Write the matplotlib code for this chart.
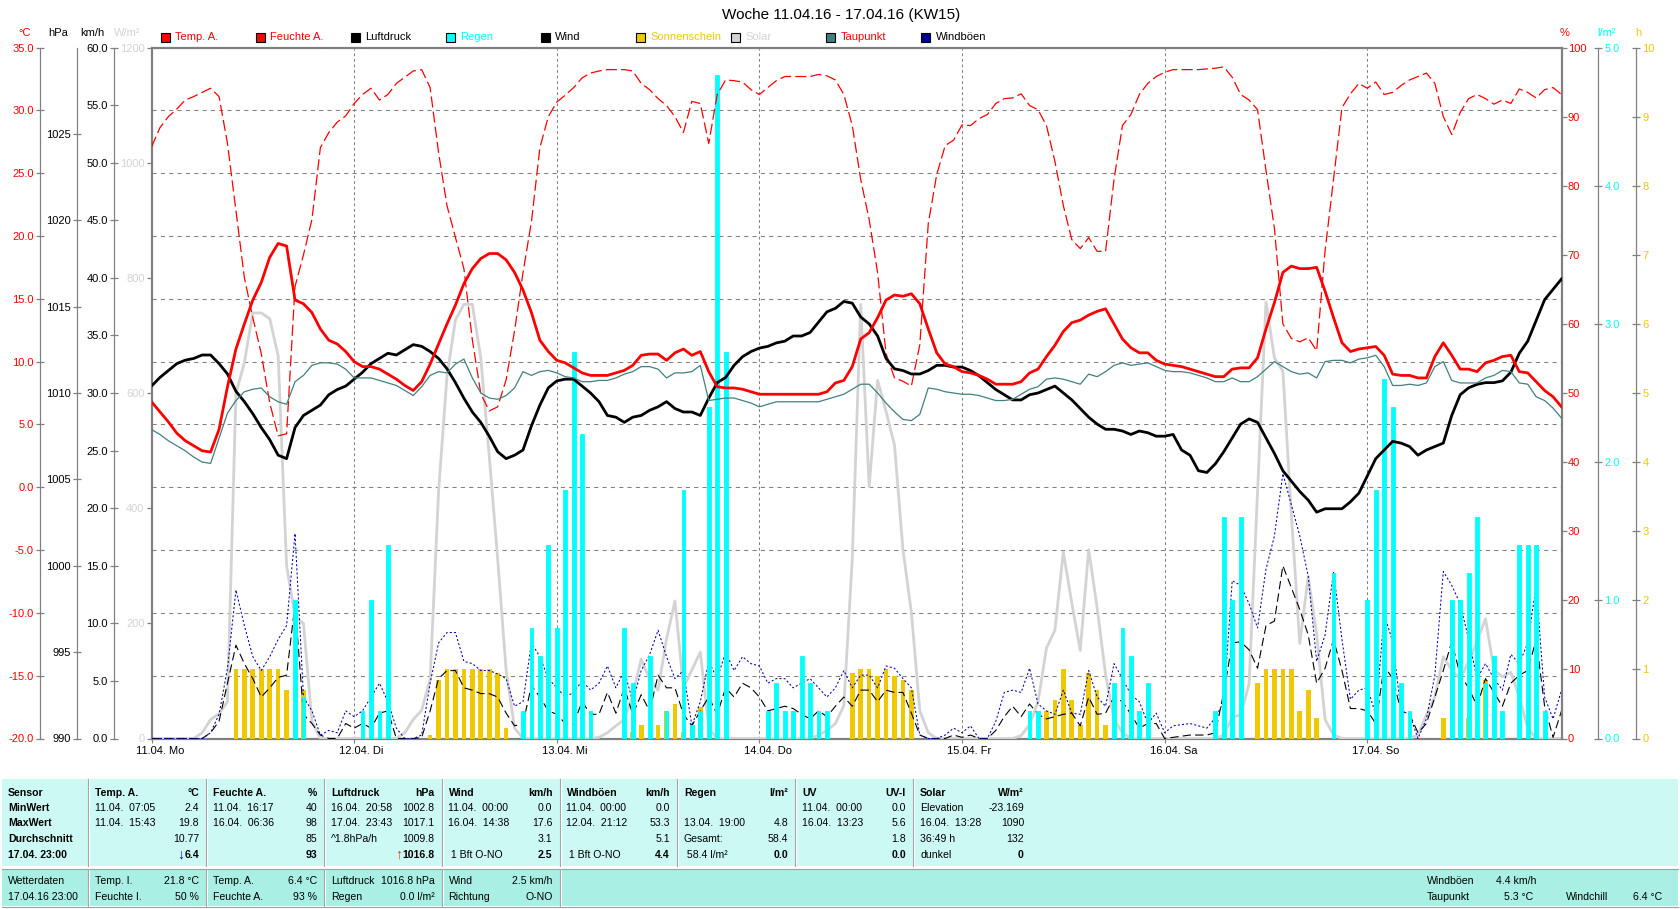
import numpy as np
import matplotlib.pyplot as plt
from matplotlib.patches import Rectangle
from matplotlib.lines import Line2D
from matplotlib.ticker import FormatStrFormatter
import matplotlib.transforms as mtransforms

plt.rcParams['font.family'] = ['Liberation Sans', 'DejaVu Sans']
plt.rcParams['font.size'] = 8
plt.rcParams['lines.scale_dashes'] = False

# hourly values 11.04. 00:00 .. 17.04. 23:00
hours = np.arange(168)
day_labels = ["11.04. Mo", "12.04. Di", "13.04. Mi", "14.04. Do", "15.04. Fr", "16.04. Sa", "17.04. So"]

temp = [6.8, 6.0, 5.2, 4.3, 3.7, 3.3, 2.9, 2.8, 4.6, 8.0, 11.0, 13.0, 14.9, 16.3, 18.3, 19.4, 19.2, 14.9, 14.6, 13.9, 12.6, 11.7, 11.4, 10.8,
        10.0, 9.6, 9.6, 9.4, 9.0, 8.6, 8.1, 7.7, 8.4, 9.8, 11.4, 13.0, 14.5, 16.2, 17.4, 18.2, 18.6, 18.6, 18.1, 17.1, 15.7, 13.9, 11.7, 10.8,
        10.1, 9.9, 9.5, 9.1, 8.9, 8.9, 8.9, 9.1, 9.3, 9.7, 10.5, 10.6, 10.6, 10.1, 10.7, 11.0, 10.5, 10.8, 9.2, 8.0, 7.9, 7.9, 7.8, 7.6,
        7.4, 7.4, 7.4, 7.4, 7.4, 7.4, 7.4, 7.4, 7.6, 8.3, 8.5, 9.6, 11.8, 12.3, 13.5, 14.9, 15.3, 15.2, 15.4, 14.6, 12.6, 10.7, 9.8, 9.6,
        9.2, 9.1, 8.9, 8.6, 8.2, 8.2, 8.2, 8.4, 9.1, 9.4, 10.4, 11.3, 12.4, 13.1, 13.3, 13.7, 14.0, 14.2, 13.0, 11.8, 11.1, 10.7, 10.7, 10.1,
        9.8, 9.7, 9.6, 9.4, 9.2, 9.0, 8.8, 8.8, 9.4, 9.5, 9.5, 10.3, 12.6, 14.7, 17.1, 17.6, 17.4, 17.4, 17.5, 15.6, 13.5, 11.5, 10.8, 11.0,
        11.1, 11.2, 10.5, 9.0, 8.9, 8.9, 8.7, 8.7, 10.4, 11.5, 10.5, 9.4, 9.4, 9.2, 9.9, 10.1, 10.4, 10.5, 9.2, 9.1, 8.4, 7.7, 7.2, 6.4]

humidity = [85.6, 88.4, 90.0, 91.1, 92.4, 92.9, 93.5, 94.1, 92.9, 86.1, 76.4, 66.7, 60.9, 55.7, 48.6, 43.8, 44.1, 65.4, 70.0, 75.1, 85.5, 87.7, 89.2, 90.1,
            91.9, 93.2, 94.1, 92.4, 93.2, 94.8, 95.7, 96.6, 96.8, 94.2, 84.8, 77.1, 72.5, 68.0, 57.7, 49.9, 47.4, 48.0, 51.9, 59.0, 67.4, 74.8, 85.5, 90.0,
            92.1, 93.1, 94.2, 95.6, 96.3, 96.6, 96.8, 96.8, 96.8, 96.6, 94.8, 93.9, 92.6, 91.6, 90.0, 87.7, 92.2, 91.9, 86.1, 93.2, 95.3, 95.2, 95.0, 93.9,
            93.2, 94.2, 95.2, 95.8, 95.8, 95.8, 95.8, 96.1, 95.9, 95.3, 93.2, 88.7, 80.9, 75.1, 67.4, 55.7, 52.2, 51.7, 51.0, 57.0, 74.5, 81.6, 85.8, 86.6,
            88.8, 88.7, 89.7, 90.3, 91.9, 92.6, 92.7, 93.3, 91.6, 91.0, 88.7, 83.5, 77.1, 72.2, 70.9, 72.5, 70.5, 70.5, 80.9, 88.7, 90.3, 93.2, 94.8, 95.8,
            96.4, 96.8, 96.8, 96.8, 96.8, 96.9, 97.0, 97.2, 95.7, 93.2, 92.4, 91.0, 82.2, 73.8, 60.0, 57.9, 57.4, 58.0, 56.1, 70.6, 80.9, 91.3, 93.3, 94.8,
            94.1, 95.0, 93.2, 93.5, 94.5, 95.3, 95.8, 96.3, 94.8, 90.0, 87.4, 90.6, 92.6, 93.2, 92.6, 91.8, 92.4, 91.9, 94.0, 93.5, 92.7, 93.9, 94.2, 93.2]

pressure = [1010.4, 1010.9, 1011.3, 1011.7, 1011.9, 1012.0, 1012.2, 1012.2, 1011.7, 1011.1, 1010.1, 1009.5, 1008.8, 1008.0, 1007.3, 1006.4, 1006.2, 1008.0, 1008.7, 1009.0, 1009.3, 1009.9, 1010.2, 1010.4,
            1010.8, 1011.2, 1011.7, 1012.0, 1012.3, 1012.2, 1012.5, 1012.8, 1012.7, 1012.4, 1012.0, 1011.4, 1010.6, 1009.7, 1008.9, 1008.3, 1007.5, 1006.6, 1006.2, 1006.4, 1006.7, 1008.1, 1009.3, 1010.3,
            1010.7, 1010.8, 1010.8, 1010.4, 1010.0, 1009.5, 1008.7, 1008.6, 1008.3, 1008.6, 1008.7, 1009.0, 1009.2, 1009.5, 1009.1, 1008.9, 1008.9, 1008.7, 1009.7, 1010.6, 1010.9, 1011.6, 1012.1, 1012.4,
            1012.6, 1012.7, 1012.9, 1013.0, 1013.3, 1013.3, 1013.5, 1014.1, 1014.7, 1014.9, 1015.3, 1015.2, 1014.4, 1014.0, 1013.3, 1012.0, 1011.4, 1011.3, 1011.1, 1011.1, 1011.3, 1011.6, 1011.6, 1011.5,
            1011.5, 1011.3, 1011.0, 1010.6, 1010.2, 1009.9, 1009.6, 1009.6, 1009.9, 1010.0, 1010.2, 1010.4, 1010.0, 1009.6, 1009.1, 1008.6, 1008.2, 1007.9, 1007.9, 1007.8, 1007.6, 1007.8, 1007.7, 1007.5,
            1007.5, 1007.6, 1006.7, 1006.4, 1005.5, 1005.4, 1005.9, 1006.6, 1007.4, 1008.2, 1008.5, 1008.3, 1007.4, 1006.5, 1005.5, 1004.9, 1004.3, 1003.8, 1003.1, 1003.3, 1003.3, 1003.3, 1003.7, 1004.2,
            1005.2, 1006.2, 1006.7, 1007.2, 1007.1, 1006.9, 1006.4, 1006.7, 1006.9, 1007.1, 1008.7, 1009.9, 1010.3, 1010.5, 1010.6, 1010.6, 1010.7, 1011.2, 1012.3, 1013.0, 1014.2, 1015.4, 1016.0, 1016.6]

dewpoint = [4.6, 4.2, 3.7, 3.3, 2.9, 2.4, 2.0, 1.9, 3.9, 5.9, 6.9, 7.6, 7.8, 7.9, 7.2, 6.8, 6.6, 8.4, 8.9, 9.7, 9.9, 9.9, 9.8, 9.4,
            8.7, 8.7, 8.7, 8.5, 8.3, 8.1, 7.7, 7.3, 8.0, 8.9, 9.2, 9.1, 9.8, 10.2, 8.7, 7.5, 7.1, 7.0, 7.3, 7.9, 9.2, 8.9, 9.2, 9.3,
            9.1, 8.8, 8.7, 8.4, 8.4, 8.5, 8.5, 8.7, 9.0, 9.2, 9.6, 9.6, 9.4, 8.7, 9.1, 9.1, 9.2, 9.7, 6.9, 7.0, 7.1, 7.1, 6.9, 6.7,
            6.4, 6.6, 6.8, 6.8, 6.8, 6.8, 6.8, 6.8, 7.0, 7.2, 7.4, 7.8, 8.2, 8.2, 7.5, 6.7, 6.0, 5.4, 5.3, 5.8, 7.9, 7.8, 7.6, 7.5,
            7.4, 7.4, 7.3, 7.1, 6.9, 6.9, 7.0, 7.4, 7.8, 8.0, 8.6, 8.7, 8.6, 8.4, 8.2, 9.0, 8.8, 9.2, 9.7, 9.9, 9.7, 9.8, 9.9, 9.6,
            9.3, 9.2, 9.2, 9.1, 8.9, 8.7, 8.4, 8.4, 8.7, 8.4, 8.4, 8.8, 9.4, 10.0, 9.6, 9.2, 9.0, 9.1, 8.7, 10.0, 10.1, 10.1, 9.9, 10.2,
            10.3, 10.5, 9.6, 8.1, 8.1, 8.2, 8.1, 8.3, 9.6, 10.0, 8.5, 8.3, 8.3, 8.3, 8.7, 8.9, 9.3, 9.2, 8.3, 8.2, 7.2, 6.9, 6.3, 5.5]

solar = [0, 0, 0, 0, 0, 0, 10, 33, 43, 64, 599, 653, 739, 739, 729, 665, 300, 212, 200, 30, 0, 0, 0, 0,
         0, 0, 0, 0, 0, 0, 10, 33, 49, 103, 429, 630, 727, 754, 754, 661, 491, 312, 119, 18, 0, 0, 0, 0,
         0, 0, 0, 0, 0, 2, 10, 22, 33, 76, 138, 103, 84, 173, 239, 88, 119, 150, 18, 0, 0, 0, 0, 0,
         0, 0, 0, 0, 0, 0, 0, 6, 14, 26, 57, 312, 754, 437, 622, 568, 510, 328, 219, 48, 10, 0, 0, 0,
         0, 0, 0, 0, 0, 0, 0, 5, 24, 64, 157, 188, 324, 235, 153, 328, 227, 111, 33, 10, 0, 0, 0, 0,
         0, 0, 0, 0, 0, 0, 0, 6, 37, 41, 95, 429, 758, 661, 638, 390, 165, 281, 181, 33, 6, 0, 0, 0,
         0, 0, 0, 0, 0, 0, 6, 41, 72, 142, 119, 103, 134, 169, 208, 119, 107, 115, 72, 18, 0, 0, 0, 0]

wind = [0, 0, 0, 0, 0, 0, 0, 0.5, 1.5, 4.8, 8.1, 6.5, 5.2, 3.6, 4.4, 5.3, 5.5, 11.7, 2.1, 1.3, 0.3, 0, 0, 1.3,
        0.9, 1.3, 0.9, 2.2, 2.4, 0, 0, 0, 0.1, 2.4, 5.2, 5.9, 5.9, 4.4, 4.2, 3.9, 3.9, 3.6, 2.2, 1.1, 1.3, 4.6, 3.6, 2.4,
        2.1, 1.3, 1.3, 3.2, 2.1, 2.1, 4.0, 2.2, 4.4, 2.1, 3.8, 2.4, 5.5, 4.4, 4.4, 2.1, 1.1, 2.4, 3.6, 2.1, 4.4, 3.6, 4.8, 4.4,
        3.6, 2.4, 2.6, 2.8, 2.6, 2.1, 1.7, 2.4, 1.9, 2.8, 3.6, 2.8, 4.2, 4.2, 3.2, 4.2, 4.0, 4.0, 2.2, 0.3, 0, 0, 0, 0.3,
        0.1, 0.3, 0, 0, 0.7, 1.9, 2.8, 1.9, 3.0, 2.1, 1.7, 1.9, 2.1, 2.2, 1.1, 3.6, 2.1, 2.2, 3.6, 3.2, 2.1, 0.9, 1.3, 1.3,
        0, 0.1, 0.2, 0.3, 0.3, 0.3, 0.5, 4.0, 8.3, 8.4, 7.7, 6.1, 9.8, 10.2, 15.0, 13.1, 11.2, 9.0, 4.8, 6.1, 8.6, 5.9, 2.6, 2.6,
        2.4, 1.3, 6.3, 5.2, 2.4, 2.1, 0.5, 1.3, 3.6, 5.9, 8.4, 5.5, 4.4, 2.8, 5.2, 4.0, 2.8, 4.8, 5.5, 5.9, 8.6, 2.8, 0.1, 2.4]

gusts = [0, 0, 0, 0, 0, 0, 0, 0.5, 2.1, 6.1, 12.9, 9.8, 7.1, 5.9, 7.1, 8.6, 9.8, 17.8, 3.6, 2.4, 0.3, 0.7, 0.5, 2.4,
         1.9, 2.4, 3.6, 4.8, 3.2, 0.9, 0, 0, 0.3, 4.8, 8.3, 9.2, 9.2, 6.7, 6.5, 5.9, 5.9, 5.6, 5.2, 2.8, 3.2, 8.3, 7.1, 5.2,
         4.4, 3.6, 4.0, 5.0, 4.2, 4.8, 6.3, 4.4, 5.9, 3.2, 5.9, 7.3, 9.4, 7.1, 5.2, 5.9, 1.1, 3.2, 6.7, 5.2, 7.5, 5.9, 7.1, 6.5,
         6.3, 4.8, 5.2, 5.2, 4.4, 4.8, 5.2, 4.4, 3.6, 4.4, 5.9, 4.4, 5.5, 5.5, 4.4, 6.3, 6.1, 5.2, 4.4, 0.3, 0, 0, 0.3, 0.9,
         0.5, 1.1, 0, 0, 1.5, 4.0, 4.2, 4.0, 6.1, 3.0, 2.4, 2.1, 4.2, 2.2, 2.1, 5.9, 3.6, 2.8, 6.5, 5.2, 3.8, 3.2, 1.3, 2.2,
         0.5, 1.1, 1.2, 1.3, 1.1, 0.9, 1.8, 3.2, 13.7, 13.3, 11.7, 9.6, 14.7, 17.6, 23.0, 20.3, 17.6, 14.1, 6.7, 9.0, 14.5, 8.6, 3.4, 4.2,
         4.4, 2.1, 10.8, 8.4, 2.4, 2.1, 0, 1.7, 5.5, 14.5, 13.3, 11.7, 8.6, 5.2, 6.5, 5.2, 4.2, 7.3, 6.5, 8.3, 13.3, 3.6, 1.7, 4.2]

rain = [0, 0, 0, 0, 0, 0, 0, 0, 0, 0, 0, 0, 0, 0, 0, 0, 0, 1.0, 0.3, 0, 0, 0, 0, 0,
        0, 0.2, 1.0, 0.2, 1.4, 0, 0, 0, 0, 0, 0, 0, 0, 0, 0, 0, 0, 0, 0, 0, 0.2, 0.8, 0.6, 1.4,
        0.8, 1.8, 2.8, 2.2, 0.2, 0, 0, 0, 0.8, 0.4, 0, 0.6, 0, 0.2, 0, 1.8, 0.1, 0.2, 2.4, 4.8, 2.8, 0, 0, 0,
        0, 0.2, 0.4, 0.2, 0.2, 0.6, 0.4, 0.2, 0.2, 0, 0, 0, 0, 0, 0, 0, 0, 0, 0, 0, 0, 0, 0, 0,
        0, 0, 0, 0, 0, 0, 0, 0, 0.2, 0.2, 0, 0, 0, 0, 0, 0, 0, 0, 0.4, 0.8, 0.6, 0.2, 0.4, 0,
        0, 0, 0, 0, 0, 0, 0.2, 1.6, 1.0, 1.6, 0, 0, 0, 0, 0, 0, 0, 0, 0, 0, 1.2, 0, 0, 0,
        1.0, 1.8, 2.6, 2.4, 0.4, 0.2, 0, 0, 0, 0, 1.0, 1.0, 1.2, 1.6, 0.4, 0.6, 0.2, 0, 1.4, 1.4, 1.4, 0.2, 0, 0]

sunshine = [0, 0, 0, 0, 0, 0, 0, 0, 0, 0, 1.0, 1.0, 1.0, 1.0, 1.0, 1.0, 0.7, 0.25, 0.7, 0, 0, 0, 0, 0,
            0, 0, 0, 0, 0, 0, 0, 0, 0, 0.05, 0.85, 1.0, 1.0, 1.0, 1.0, 1.0, 1.0, 0.95, 0.15, 0, 0, 0, 0, 0,
            0, 0, 0, 0, 0, 0, 0, 0, 0, 0.1, 0.2, 0, 0.2, 0.4, 0.5, 0.1, 0.2, 0.45, 0, 0, 0, 0, 0, 0,
            0, 0, 0, 0, 0, 0, 0, 0, 0, 0, 0, 0.95, 1.0, 1.0, 0.9, 1.0, 0.9, 0.85, 0.7, 0, 0, 0, 0, 0,
            0, 0, 0, 0, 0, 0, 0, 0, 0, 0, 0.4, 0.55, 1.0, 0.55, 0.2, 0.95, 0.7, 0.2, 0, 0, 0, 0, 0, 0,
            0, 0, 0, 0, 0, 0, 0, 0, 0, 0, 0, 0.8, 1.0, 1.0, 1.0, 1.0, 0.4, 0.7, 0.3, 0, 0, 0, 0, 0,
            0, 0, 0, 0, 0, 0, 0, 0, 0, 0.3, 0, 0, 0.3, 0.2, 0.85, 0, 0, 0, 0, 0, 0, 0, 0, 0]

RED = '#ff0000'
CYAN = '#00ffff'
GOLD = '#f0c800'
LGRAY = '#d3d3d3'
TEAL = '#408080'
NAVY = '#0000b0'
GRAY = '#808080'

W, H = 1680, 909
fig = plt.figure(figsize=(W / 100, H / 100), dpi=100)


def X(px):
    return px / W


def Y(py):
    return 1 - py / H


L, R, T, B = 151.5, 1561.5, 47.5, 738.5
ax = fig.add_axes([X(L), Y(B), (R - L) / W, (B - T) / H])
ax.set_xlim(0, 167)
ax.set_ylim(-20, 35)

# main axes: temperature scale + grid
ax.spines['right'].set_visible(False)
for s in ['top', 'bottom']:
    ax.spines[s].set_color(GRAY)
    ax.spines[s].set_linewidth(1.6)
ax.spines['left'].set_position(('outward', (L - 40) * 0.72))
ax.spines['left'].set_color(GRAY)
ax.spines['left'].set_linewidth(0.9)
ax.set_yticks(np.arange(-20, 36, 5))
ax.yaxis.set_major_formatter(FormatStrFormatter('%.1f'))
ax.tick_params(axis='y', direction='inout', length=6, width=0.9, color=GRAY, labelcolor=RED, pad=1.5)
ax.yaxis.grid(True, linestyle=(0, (3, 3)), color=GRAY, linewidth=0.75)
ax.set_xticks(np.arange(0, 168, 24))
ax.tick_params(axis='x', direction='out', length=3, color=GRAY, labelbottom=False)
for d in range(1, 7):
    ax.axvline(d * 24, color=GRAY, linestyle=(0, (2, 2)), linewidth=0.75)

trans = mtransforms.offset_copy(ax.get_xaxis_transform(), fig=fig, x=-15, y=-7, units='dots')
for d, lab in enumerate(day_labels):
    ax.text(d * 24, 0, lab, transform=trans, ha='left', va='top', fontsize=8)


def side_axis(side, shift, lim, ticks, fmt, lab_col, tdir, tlen, pad, lw=0.9):
    a = ax.twinx()
    a.set_ylim(*lim)
    for sp in a.spines.values():
        sp.set_visible(False)
    sp = a.spines[side]
    sp.set_visible(True)
    sp.set_color(GRAY)
    sp.set_linewidth(lw)
    sp.set_position(('outward', shift * 0.72))
    if side == 'left':
        a.yaxis.tick_left()
    else:
        a.yaxis.tick_right()
    a.set_yticks(ticks)
    a.yaxis.set_major_formatter(FormatStrFormatter(fmt))
    a.tick_params(axis='y', direction=tdir, length=tlen, width=0.9, color=GRAY,
                  labelcolor=lab_col, labelsize=8, pad=pad)
    return a


ax_sun = side_axis('right', 1636 - R, (0, 10), np.arange(0, 11), '%d', GOLD, 'inout', 6, 1.5)
ax_sun.bar(hours, sunshine, width=0.55, color=GOLD, linewidth=0)

ax_sol = side_axis('left', 0, (0, 1200), np.arange(0, 1201, 200), '%d', LGRAY, 'out', 3.5, 1.5, lw=1.6)
ax_sol.plot(hours, solar, color=LGRAY, linewidth=2.0)

ax_w = side_axis('left', L - 114, (0, 60), np.arange(0, 61, 5), '%.1f', 'black', 'inout', 6, 1.5)
ax_w.plot(hours, wind, color='black', linewidth=0.8, linestyle=(0, (6, 3)))
ax_w.plot(hours, gusts, color=NAVY, linewidth=0.75, linestyle=(0, (1.5, 1.5)))

ax_r = side_axis('right', 1598 - R, (0, 5), np.arange(0, 6), '%.1f', CYAN, 'inout', 6, 1.5)
ax_r.bar(hours, rain, width=0.45, color=CYAN, edgecolor=CYAN, linewidth=0.6)

ax_h = side_axis('right', 0, (0, 100), np.arange(0, 101, 10), '%d', RED, 'out', 3.5, 1.0, lw=1.6)
ax_h.plot(hours, humidity, color=RED, linewidth=0.9, linestyle=(0, (8, 3)))

ax_p = side_axis('left', L - 77, (990, 1030), np.arange(990, 1026, 5), '%d', 'black', 'inout', 6, 1.5)
ax_p.plot(hours, pressure, color='black', linewidth=2.0)

ax_t = ax.twinx()
ax_t.set_ylim(-20, 35)
ax_t.axis('off')
ax_t.plot(hours, dewpoint, color=TEAL, linewidth=0.9)
ax_t.plot(hours, temp, color=RED, linewidth=2.0)

# unit labels above the scales
units = [(25, '°C', RED), (58, 'hPa', 'black'), (92, 'km/h', 'black'), (127, 'W/m²', LGRAY),
         (1565, '%', RED), (1607, 'l/m²', CYAN), (1638, 'h', GOLD)]
for ux, ut, uc in units:
    fig.text(X(ux), Y(33), ut, ha='center', va='center', color=uc, fontsize=8)

fig.text(X(841), Y(15.5), 'Woche 11.04.16 - 17.04.16 (KW15)', ha='center', va='center', fontsize=11)

legend = [('Temp. A.', RED, RED), ('Feuchte A.', RED, RED), ('Luftdruck', 'black', 'black'),
          ('Regen', CYAN, CYAN), ('Wind', 'black', 'black'), ('Sonnenschein', GOLD, GOLD),
          ('Solar', LGRAY, LGRAY), ('Taupunkt', TEAL, RED), ('Windböen', '#000099', 'black')]
for i, (lab, sq, tc) in enumerate(legend):
    cx = 165 + 95.1 * i
    fig.add_artist(Rectangle((X(cx - 4.5), Y(37.5 + 4.5)), 9 / W, 9 / H, transform=fig.transFigure,
                             facecolor=sq, edgecolor='black', linewidth=0.8))
    fig.text(X(cx + 10), Y(37.5), lab, color=tc, ha='left', va='center', fontsize=8)

# ---- table below the chart ----
PANEL = '#cdf9f5'
BAND = '#a9efe3'
SEPC = '#a0a0a0'
FS = 7.6
fig.add_artist(Rectangle((X(2), Y(866)), 1676 / W, 87 / H, transform=fig.transFigure, facecolor=PANEL, edgecolor='none'))
fig.add_artist(Rectangle((X(2), Y(906)), 1676 / W, 36 / H, transform=fig.transFigure, facecolor=BAND, edgecolor='none'))
fig.add_artist(Line2D([X(2), X(1678)], [Y(868.5), Y(868.5)], color=SEPC, linewidth=0.8, transform=fig.transFigure))
fig.add_artist(Line2D([X(2), X(1678)], [Y(906.5), Y(906.5)], color=SEPC, linewidth=0.8, transform=fig.transFigure))
seps = [88, 206, 324, 441.5, 559.5, 677, 795, 913, 1031]
for i, s in enumerate(seps[:-1]):
    fig.add_artist(Line2D([X(s), X(s)], [Y(779), Y(866)], color=SEPC, linewidth=0.8, transform=fig.transFigure))
    fig.add_artist(Line2D([X(s + 1.2), X(s + 1.2)], [Y(779), Y(866)], color='white', linewidth=0.8, transform=fig.transFigure))
    if i < 5:
        fig.add_artist(Line2D([X(s), X(s)], [Y(870), Y(906)], color=SEPC, linewidth=0.8, transform=fig.transFigure))
        fig.add_artist(Line2D([X(s + 1.2), X(s + 1.2)], [Y(870), Y(906)], color='white', linewidth=0.8, transform=fig.transFigure))


def put(x, y, s, ha='left', bold=False, color='black', size=FS):
    return fig.text(X(x), Y(y), s, ha=ha, va='center', fontsize=size,
                    fontweight='bold' if bold else 'normal', color=color)


rows = [792.5, 808, 823.5, 839.5, 855]
for y, s in zip(rows, ['Sensor', 'MinWert', 'MaxWert', 'Durchschnitt', '17.04. 23:00']):
    put(8, y, s, bold=True)

heads = [('Temp. A.', '°C'), ('Feuchte A.', '%'), ('Luftdruck', 'hPa'), ('Wind', 'km/h'),
         ('Windböen', 'km/h'), ('Regen', 'l/m²'), ('UV', 'UV-I'), ('Solar', 'W/m²')]
body = [
    [('11.04.  07:05', '2.4'), ('11.04.  15:43', '19.8'), ('', '10.77'), ('', '6.4')],
    [('11.04.  16:17', '40'), ('16.04.  06:36', '98'), ('', '85'), ('', '93')],
    [('16.04.  20:58', '1002.8'), ('17.04.  23:43', '1017.1'), ('^1.8hPa/h', '1009.8'), ('', '1016.8')],
    [('11.04.  00:00', '0.0'), ('16.04.  14:38', '17.6'), ('', '3.1'), (' 1 Bft O-NO', '2.5')],
    [('11.04.  00:00', '0.0'), ('12.04.  21:12', '53.3'), ('', '5.1'), (' 1 Bft O-NO', '4.4')],
    [('', ''), ('13.04.  19:00', '4.8'), ('Gesamt:', '58.4'), (' 58.4 l/m²', '0.0')],
    [('11.04.  00:00', '0.0'), ('16.04.  13:23', '5.6'), ('', '1.8'), ('', '0.0')],
    [('Elevation', '-23.169'), ('16.04.  13:28', '1090'), ('36:49 h', '132'), ('dunkel', '0')],
]
arrows = {0: ('↓', '#0000ff'), 2: ('↑', '#d04000')}
renderer = fig.canvas.get_renderer()
for c in range(8):
    xl = seps[c] + 7
    xr = seps[c + 1] - 7
    put(xl, rows[0], heads[c][0], bold=True)
    put(xr, rows[0], heads[c][1], ha='right', bold=True)
    for r in range(4):
        left, right = body[c][r]
        put(xl, rows[r + 1], left)
        t = put(xr, rows[r + 1], right, ha='right', bold=(r == 3))
        if r == 3 and c in arrows:
            bb = t.get_window_extent(renderer)
            sym, col = arrows[c]
            fig.text(bb.x0 / W, Y(rows[r + 1]), sym, ha='right', va='center', fontsize=10,
                     fontweight='bold', color=col)

brows = [880.5, 896.5]
put(8, brows[0], 'Wetterdaten')
put(8, brows[1], '17.04.16 23:00')
band = [
    [('Temp. I.', '21.8 °C'), ('Feuchte I.', '50 %')],
    [('Temp. A.', '6.4 °C'), ('Feuchte A.', '93 %')],
    [('Luftdruck', '1016.8 hPa'), ('Regen', '0.0 l/m²')],
    [('Wind', '2.5 km/h'), ('Richtung', 'O-NO')],
]
for c in range(4):
    xl = seps[c] + 7
    xr = seps[c + 1] - 7
    for r in range(2):
        put(xl, brows[r], band[c][r][0])
        put(xr, brows[r], band[c][r][1], ha='right')
put(1427, brows[0], 'Windböen')
put(1496.5, brows[0], '4.4 km/h')
put(1427, brows[1], 'Taupunkt')
put(1504, brows[1], '5.3 °C')
put(1566, brows[1], 'Windchill')
put(1633, brows[1], '6.4 °C')

fig.savefig('out.png', dpi=100)
plt.close()
